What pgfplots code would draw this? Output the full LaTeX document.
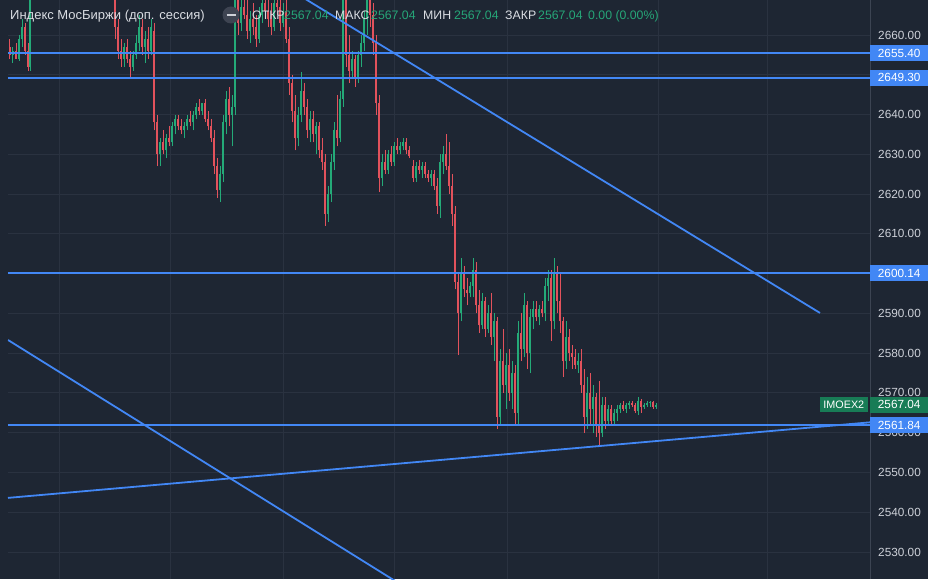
\documentclass[border=0pt]{standalone}
\usepackage{pgfplots}
\pgfplotsset{compat=1.18}
\usepackage{pgfplotstable}
\usepackage{fontspec}
\setmainfont{Liberation Sans}
\definecolor{bgc}{RGB}{30,38,51}
\definecolor{gridc}{RGB}{42,50,64}
\definecolor{sepc}{RGB}{60,68,82}
\definecolor{tickc}{RGB}{205,208,216}
\definecolor{titlec}{RGB}{218,221,227}
\definecolor{valc}{RGB}{38,166,120}
\definecolor{upc}{RGB}{36,170,120}
\definecolor{dnc}{RGB}{226,82,92}
\definecolor{lblue}{RGB}{66,135,245}
\definecolor{boxg}{RGB}{24,124,86}
\definecolor{iconc}{RGB}{62,68,82}

\pgfplotstableread{
x o h l c
13 2655 2657 2653 2656
19 2654 2660 2653.5 2659
22 2659 2664 2657 2662
30 2652 2672 2651 2670
124 2654 2658 2652 2657
133 2652 2656 2651 2655
136 2655 2660 2654 2658
139 2658 2665 2656 2662
145 2657 2661 2653 2659
151 2656 2664 2655 2662
160 2630 2634 2627 2633
166 2631 2635 2629 2634
172 2633 2638 2632 2637
175 2637 2640 2635 2639
184 2636 2638 2634 2637
187 2637 2640 2636 2639
193 2638 2641 2636 2640
196 2640 2643 2639 2642
202 2641 2643 2640 2643
220 2621 2627 2618 2625
223 2625 2640 2623 2638
226 2638 2646 2635 2644
232 2640 2645 2632 2642
235 2642 2672 2640 2670
241 2663 2670 2661 2667
250 2661 2666 2658 2664
259 2659 2667 2658 2665
262 2665 2671 2663 2668
274 2662 2670 2661 2668
283 2663 2668 2662 2666
298 2634 2642 2632 2640
301 2640 2650.7 2638 2646
310 2636 2641 2633 2639
316 2635 2638 2630 2637
328 2615 2622 2613 2620
331 2620 2630 2618 2628
334 2628 2638 2626 2636
340 2634 2646 2633 2644
343 2644 2672 2642 2670
352 2651 2656 2649 2654
358 2649 2656 2648 2655
361 2655 2660 2652 2658
364 2658 2666 2656 2664
367 2664 2672 2660 2670
382 2624 2630 2622 2628
388 2626 2631 2625 2630
394 2628 2633 2627 2632
400 2631 2633 2630 2632
403 2632 2634 2631 2633
416 2624 2628 2623 2627
422 2626 2628 2624 2627
431 2624 2626 2622 2625
440 2617 2630 2614 2628
443 2628 2632 2625 2630
461 2590 2604 2588 2600
470 2595 2598 2594 2597
473 2597 2604 2594 2601
482 2587 2595 2586 2593
488 2586 2592 2585 2590
494 2584 2590 2578 2588
500 2564 2581 2562 2578
506 2572 2580 2566 2577
512 2570 2578 2566 2575
518 2565 2588 2562 2585
524 2581 2595 2579 2592
530 2580 2591 2575 2589
533 2589 2593 2586 2591
539 2589 2592 2587 2591
545 2590 2599 2588 2597
548 2597 2601 2593 2599
554 2588 2604 2586 2600
566 2578 2588 2576 2584
578 2577 2580 2575 2578
587 2564 2574 2561 2570
593 2566 2572 2560 2569
602 2560 2569 2559 2567
608 2563 2567 2562 2566
614 2563 2566 2562 2565
617 2565 2567 2563 2566
620 2566 2567.5 2565 2567
626 2566 2567.5 2565 2567
629 2567 2568 2566 2567.5
638 2565.5 2569 2564.5 2568
644 2566.5 2567.5 2566 2567
647 2567 2568 2566.5 2567.5
650 2567.5 2568 2566.5 2567.7
656 2566.5 2567.5 2566 2567.04
}\upt

\pgfplotstableread{
x o h l c
10 2657 2659 2654 2655
16 2656 2658 2654 2654
25 2662 2663 2655 2656
28 2656 2658 2651 2652
115 2672 2675 2659 2662
118 2662 2664 2654 2656
121 2656 2659 2652 2654
127 2657 2659 2653 2654
130 2654 2656 2649.5 2652
142 2662 2664 2655 2657
148 2659 2662 2654 2656
154 2661 2663 2636 2638
157 2638 2640 2627 2630
163 2633 2636 2630 2631
169 2634 2637 2632 2633
178 2639 2640 2636 2637
181 2637 2639 2635 2636
190 2639 2641 2637 2638
199 2642 2644 2640 2641
205 2643 2644 2638 2639
208 2639 2641 2636 2637
211 2637 2639 2633 2634
214 2634 2636 2625 2627
217 2627 2629 2619 2621
229 2644 2647 2637 2640
238 2670 2673 2660 2663
244 2667 2672 2664 2665
247 2665 2669 2659 2661
253 2664 2668 2660 2662
256 2662 2665 2657 2659
265 2668 2673 2664 2666
268 2666 2670 2662 2664
271 2664 2668 2660 2662
277 2668 2672 2665 2667
280 2667 2671 2661 2663
286 2666 2669 2658 2659
289 2659 2662 2645 2648
292 2648 2650 2638 2641
295 2641 2645 2631 2634
304 2646 2648 2640 2642
307 2642 2644 2634 2636
313 2639 2641 2633 2635
319 2637 2638 2629 2631
322 2631 2634 2626 2628
325 2628 2630 2612 2615
337 2636 2645 2632 2634
346 2670 2672 2652 2655
349 2655 2660 2648 2651
355 2654 2655 2647 2649
370 2670 2673 2662 2665
373 2665 2668 2655 2658
376 2658 2660 2640 2643
379 2643 2645 2620.5 2624
385 2628 2631 2625 2626
391 2630 2632 2627 2628
397 2632 2634 2630 2631
406 2633 2634 2630 2631
409 2631 2632 2629 2629.5
413 2627 2628.5 2623 2624
419 2627 2628.5 2625 2626
425 2627 2628 2624 2625
428 2625 2626 2623 2624
434 2625 2626 2621 2622
437 2622 2624 2615 2617
446 2630 2635 2626 2627
449 2627 2633 2620 2622
452 2622 2625 2612 2615
455 2615 2617 2596 2598
458 2598 2600 2579.5 2590
464 2600 2602 2594 2596
467 2596 2599 2592 2595
476 2601 2603 2590 2592
479 2592 2596 2585 2587
485 2593 2594 2584 2586
491 2590 2595 2582 2584
497 2588 2589 2561 2564
503 2578 2586 2570 2572
509 2577 2581 2568 2570
515 2575 2577 2562 2565
521 2585 2590 2578 2581
527 2592 2593 2576 2580
536 2591 2593 2588 2589
542 2591 2593 2589 2590
551 2599 2601 2583 2588
557 2600 2602 2590 2593
560 2593 2600 2585 2588
563 2588 2589 2574 2578
569 2584 2586 2578 2580
572 2580 2582 2576 2579
575 2579 2581 2576 2577
581 2578 2581 2570 2572
584 2572 2576 2560 2564
590 2570 2575 2562 2566
596 2569 2570 2559 2562
599 2562 2573 2556.5 2560
605 2567 2569 2561 2563
611 2566 2567 2562 2563
623 2567 2568 2565.5 2566
632 2567.5 2568 2566.5 2567
635 2567 2567.5 2565 2565.5
641 2568 2568.5 2565 2566.5
653 2567.7 2568 2566 2566.5
}\dnt

\begin{document}
\begin{tikzpicture}[x=1pt,y=1pt]
\fill[bgc] (0,0) rectangle (928,579);
\useasboundingbox (0,0) rectangle (928,579);
\begin{axis}[
  at={(8,0)}, anchor=south west, scale only axis,
  width=862pt, height=579pt,
  xmin=8, xmax=870, ymin=2523.2, ymax=2668.8,
  axis line style={draw=none},
  clip mode=individual,
  xtick={59,170,283,394,507,658,767}, xticklabels={},
  ytick={2530,2540,2550,2560,2570,2580,2590,2600,2610,2620,2630,2640,2660},
  extra y ticks={2650}, extra y tick labels={},
  extra tick style={grid=major},
  xmajorgrids, ymajorgrids,
  grid style={draw=gridc, line width=0.8pt},
  major tick length=0pt,
  yticklabel pos=right,
  yticklabel style={font=\fontsize{11.8}{12}\selectfont, text=tickc, anchor=west, inner sep=0pt, xshift=8pt},
  /pgf/number format/fixed, /pgf/number format/fixed zerofill,
  /pgf/number format/precision=2, /pgf/number format/1000 sep={},
  /pgf/number format/assume math mode=true,
]
% candles: wicks
\addplot[draw=none, forget plot, error bars/.cd, y dir=plus, y explicit, error mark=none,
  error bar style={draw=upc, line width=1pt}]
  table[x=x, y=l, y error expr=\thisrow{h}-\thisrow{l}] {\upt};
\addplot[draw=none, forget plot, error bars/.cd, y dir=plus, y explicit, error mark=none,
  error bar style={draw=dnc, line width=1pt}]
  table[x=x, y=l, y error expr=\thisrow{h}-\thisrow{l}] {\dnt};
% candles: bodies
\addplot[draw=none, forget plot, error bars/.cd, y dir=plus, y explicit, error mark=none,
  error bar style={draw=upc, line width=2.3pt}]
  table[x=x, y=o, y error expr=\thisrow{c}-\thisrow{o}] {\upt};
\addplot[draw=none, forget plot, error bars/.cd, y dir=plus, y explicit, error mark=none,
  error bar style={draw=dnc, line width=2.3pt}]
  table[x=x, y=c, y error expr=\thisrow{o}-\thisrow{c}] {\dnt};
% horizontal levels
\addplot[lblue, line width=2pt] coordinates {(8,2655.40) (870,2655.40)};
\addplot[lblue, line width=2pt] coordinates {(8,2649.30) (870,2649.30)};
\addplot[lblue, line width=2pt] coordinates {(8,2600.14) (870,2600.14)};
\addplot[lblue, line width=2pt] coordinates {(8,2561.84) (870,2561.84)};
% trend lines
\addplot[lblue, line width=1.8pt] coordinates {(295,2670.64) (820,2590.1)};
\addplot[lblue, line width=1.8pt] coordinates {(8,2583.3) (400,2521.95)};
\addplot[lblue, line width=1.8pt] coordinates {(8,2543.6) (870,2562.6)};
% separator
\draw[sepc, line width=1pt] (axis cs:870,2523.2) -- (axis cs:870,2668.8);
% price labels
\tikzset{plab/.style={text=white, minimum width=58pt, minimum height=16pt, inner sep=0pt, anchor=west, font=\fontsize{11.8}{12}\selectfont}}
\node[plab, fill=lblue] at (axis cs:870,2655.40) {2655.40};
\node[plab, fill=lblue] at (axis cs:870,2649.30) {2649.30};
\node[plab, fill=lblue] at (axis cs:870,2600.14) {2600.14};
\node[plab, fill=boxg] at (axis cs:870,2567.04) {2567.04};
\node[plab, fill=lblue] at (axis cs:870,2561.84) {2561.84};
\node[text=white, fill=boxg, minimum width=48pt, minimum height=15pt, inner sep=0pt, anchor=east, font=\fontsize{10.8}{12}\selectfont] at (axis cs:868,2567.04) {IMOEX2};
\end{axis}
% legend line
\node[anchor=base west, inner sep=0pt, text=titlec, font=\fontsize{13}{14}\selectfont] at (10,559) {Индекс МосБиржи (доп. сессия)};
\fill[iconc] (231,564) circle (8.5);
\draw[tickc, line width=2pt] (226.5,564) -- (235.5,564);
\begin{scope}[every node/.style={anchor=base west, inner sep=0pt, font=\fontsize{12.3}{14}\selectfont}]
\node[text=titlec] at (252,559) {ОТКР};
\node[text=valc] at (284,559) {2567.04};
\node[text=titlec] at (335,559) {МАКС};
\node[text=valc] at (371,559) {2567.04};
\node[text=titlec] at (423,559) {МИН};
\node[text=valc] at (454,559) {2567.04};
\node[text=titlec] at (505,559) {ЗАКР};
\node[text=valc] at (538,559) {2567.04};
\node[text=valc] at (588,559) {0.00 (0.00\%)};
\end{scope}
\end{tikzpicture}
\end{document}
